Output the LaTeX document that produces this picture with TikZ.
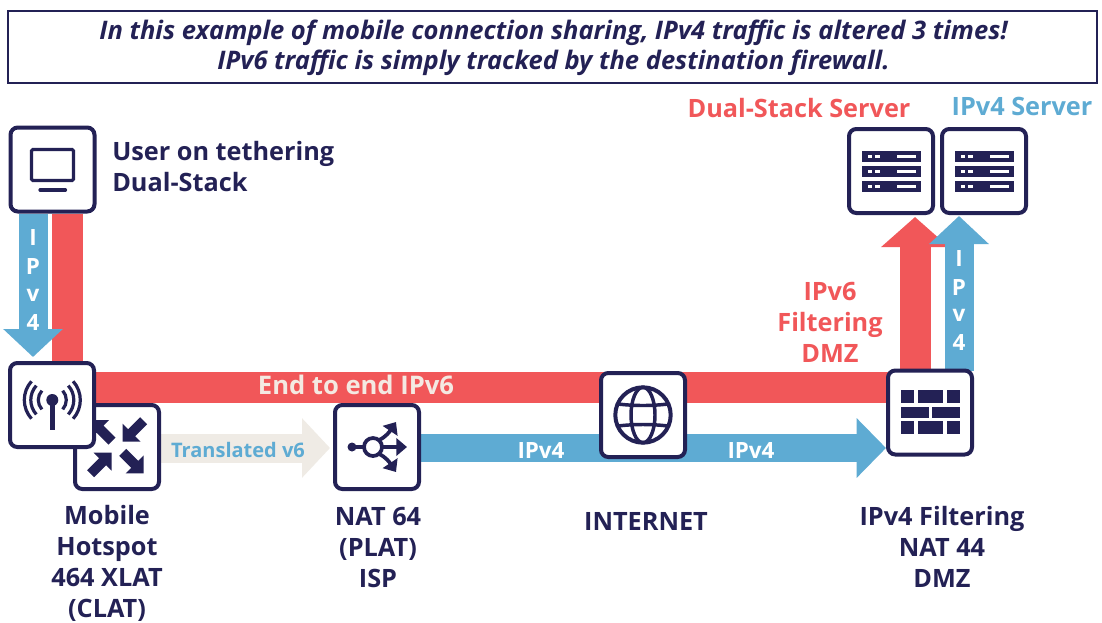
\documentclass[tikz,border=0pt]{standalone}
\usepackage{fontspec}
\setmainfont{Open Sans}
\newcommand{\semi}{\bfseries}
\usetikzlibrary{arrows.meta,calc}
\definecolor{navy}{HTML}{232155}
\definecolor{redb}{HTML}{F15759}
\definecolor{blueb}{HTML}{5EABD3}
\definecolor{beige}{HTML}{EFEBE5}
\definecolor{cream}{HTML}{F4E9E2}
\newcommand{\cornerarrow}[3]{\begin{scope}[shift={(#1)},xscale=#2,yscale=#3]
\fill[navy] (0,0)--(18,0)--(12.5,-5.5)--(24.5,-17.5)--(17.5,-24.5)--(5.5,-12.5)--(0,-18)--cycle;
\end{scope}}
\tikzset{
 x=0.75pt,y=-0.75pt,
 iconbox/.style={draw=navy,fill=white,line width=3pt,rounded corners=5.5pt,minimum size=63pt,inner sep=0pt},
 lab/.style={font=\semi\fontsize{18.95}{23.25}\selectfont,text=navy,align=center,inner sep=0pt},
 redlab/.style={lab,text=redb},
 bluelab/.style={lab,text=blueb},
 onband/.style={font=\semi\fontsize{16.8}{20}\selectfont,text=white,inner sep=0pt},
 vband/.style={line width=21.75pt,draw=blueb},
 redband/.style={line width=23.25pt,draw=redb},
 icon/.style={draw=navy,line width=2.4pt},
}
\begin{document}
\begin{tikzpicture}
\useasboundingbox (0,0) rectangle (1102,622);
\fill[white] (0,0) rectangle (1102,622);
% title
\node[draw=navy,line width=1.5pt,minimum width=817pt,minimum height=53.5pt,inner sep=0pt] (title) at (552.5,47) {};
\node[inner sep=0pt,align=center,text=navy,font=\bfseries\itshape\fontsize{19.15}{22.5}\selectfont] (titletext) at (553.5,48) {In this example of mobile connection sharing, IPv4 traffic is altered 3 times!\\IPv6 traffic is simply tracked by the destination firewall.};
\coordinate (userc) at (52.5,169.5);
\coordinate (hotc) at (52,405);
\coordinate (xlatc) at (117,447);
\coordinate (platc) at (377,447);
\coordinate (inetc) at (643,415);
\coordinate (fwc) at (930,412.5);
\coordinate (s6c) at (891,171);
\coordinate (s4c) at (984,171);
\foreach \n/\c in {user/userc,hotspot/hotc,xlat/xlatc,plat/platc,inet/inetc,fw/fwc,srvsix/s6c,srvfour/s4c}{
 \node[minimum size=63pt,inner sep=0pt,outer sep=1.5pt,line width=0pt] (\n) at (\c) {};
}
% bands
\draw[redband] ($(user.south)+(15,0)$) |- ($(fw.west)+(2,-25)$);
\draw[redband,-{Triangle[length=22.5pt,width=49.5pt]}] ($(fw.north)+(-15,2)$) -- ($(srvsix.south)+(24,2)$);
\draw[vband,-{Triangle[length=21pt,width=43.5pt]}] ($(user.south)+(-19.5,0)$) -- ($(hotspot.north)+(-19,-4)$);
\draw[vband,-{Triangle[length=21pt,width=43.5pt]}] ($(fw.north)+(29,2)$) -- ($(srvfour.south)+(-25,1)$);
\draw[line width=21.75pt,draw=beige,-{Triangle[length=21pt,width=43.5pt]}] ($(xlat.east)+(0,1)$) -- ($(plat.west)+(-3,1)$);
\draw[line width=21pt,draw=blueb,-{Triangle[length=22pt,width=43.5pt]}] ($(plat.east)+(0,1)$) -- ($(fw.west)+(0,35.5)$);
% boxes
\node[iconbox] at (userc) {};
\node[iconbox] at (xlatc) {};
\cornerarrow{122.7,441.7}{1}{1}
\cornerarrow{111.7,452.7}{-1}{-1}
\cornerarrow{143.7,473.3}{-1}{1}
\cornerarrow{91,420}{1}{-1}
\node[iconbox] at (hotc) {};
\node[iconbox] at (platc) {};
\node[iconbox] at (inetc) {};
\node[iconbox] at (fwc) {};
\node[iconbox] at (s6c) {};
\node[iconbox] at (s4c) {};
% monitor
\draw[icon,rounded corners=1pt] (31.5,149.5) rectangle (73.5,180.5);
\draw[icon,line cap=round] (40,190) -- (65.5,190);
% antenna
\fill[navy] (52.3,400) circle (6);
\draw[navy,line width=3.4pt] (52.3,400) -- (52.3,429.5);
\foreach \r in {14,21.5,28}{
 \draw[navy,line width=2.4pt] (52.3,400) ++(-42:\r) arc[start angle=-42,end angle=42,radius=\r];
 \draw[navy,line width=2.4pt] (52.3,400) ++(138:\r) arc[start angle=138,end angle=222,radius=\r];
}
% nat icon
\fill[navy] (352,447) circle (4.5);
\draw[navy,line width=2.8pt] (352,447) -- (364,447);
\draw[navy,line width=2.8pt] (373,447) circle (9);
\draw[navy,line width=2.8pt,-{Triangle[length=8pt,width=13pt]}] (382,447) -- (407,447);
\draw[navy,line width=2.8pt,-{Triangle[length=8pt,width=13pt]}] (379,440) .. controls (386,437) and (390,431) .. (396,422);
\draw[navy,line width=2.8pt,-{Triangle[length=8pt,width=13pt]}] (379,454) .. controls (386,457) and (390,463) .. (396,472);
% globe
\draw[navy,line width=3pt] (643,415) circle (27.7);
\draw[navy,line width=2.6pt] (643,415) ellipse (12 and 27.7);
\draw[navy,line width=2.6pt] (618,404) .. controls (635,406) and (651,406) .. (668,404);
\draw[navy,line width=2.6pt] (618,426) .. controls (635,424) and (651,424) .. (668,426);
% bricks
\foreach \a/\b/\c/\d in {900.7/914/390/403,917.7/943/390/403,947/960/390/403,901/929/407/418,932/960/407/418,900.7/914/421/434,917.7/943/421/434,947/960/421/434}{
 \fill[navy] (\a,\c) rectangle (\b,\d);
}
% servers
\foreach \dx in {0,93}{
 \foreach \yy in {151,166,181}{
  \fill[navy] (862+\dx,\yy) rectangle (921+\dx,\yy+10.5);
  \fill[white] (868+\dx,\yy+3.5) rectangle (872+\dx,\yy+7);
  \fill[white] (875+\dx,\yy+3.5) rectangle (880+\dx,\yy+7);
  \fill[white] (897+\dx,\yy+3.5) rectangle (916+\dx,\yy+7);
 }
}
% labels
\node[lab,align=left,anchor=west] (userlab) at (112,167) {User on tethering\\Dual-Stack};
\node[redlab] (dslab) at (799,108) {Dual-Stack Server};
\node[bluelab] (v4lab) at (1022,106) {IPv4 Server};
\node[redlab] (filt6) at (830,322) {IPv6\\Filtering\\DMZ};
\node[lab] (mob) at (107,563) {Mobile\\Hotspot\\464 XLAT\\(CLAT)};
\node[lab] (natl) at (378,547) {NAT 64\\(PLAT)\\ISP};
\node[lab] (inetl) at (646,521) {INTERNET};
\node[lab] (fwl) at (942,547) {IPv4 Filtering\\NAT 44\\DMZ};
\node[onband,text=cream,font=\semi\fontsize{19.2}{20}\selectfont] (e2e) at (356,385) {End to end IPv6};
\node[onband,text=blueb,font=\semi\fontsize{15}{20}\selectfont] (tr) at (238,450) {Translated v6};
\node[onband] (a1) at (541,450) {IPv4};
\node[onband] (a2) at (751,450) {IPv4};
\foreach \t/\yy in {I/237,P/266,v/295,4/322}{\node[onband] at (33,\yy) {\t};}
\foreach \t/\yy in {I/258,P/287,v/315,4/342}{\node[onband] at (959,\yy) {\t};}
\end{tikzpicture}
\end{document}
